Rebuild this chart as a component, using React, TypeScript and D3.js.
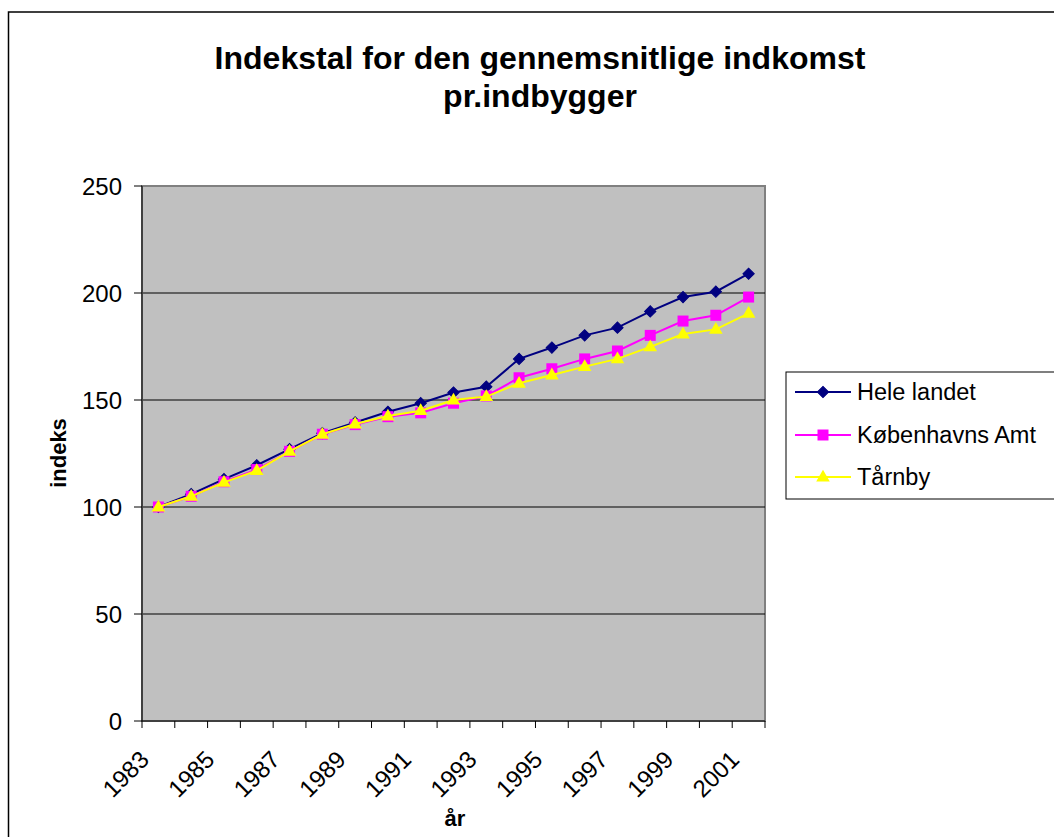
import React from "react";
import * as d3 from "d3";

const years = [1983,1984,1985,1986,1987,1988,1989,1990,1991,1992,1993,1994,1995,1996,1997,1998,1999,2000,2001];
const heleLandet = [100,106,113,119.5,127,134.5,139.5,144.5,148.5,153.5,156.2,169.2,174.5,180.2,183.8,191.4,198.1,200.6,209];
const kobenhavnsAmt = [100,105,111.8,117.5,126,134,138.5,142.2,144,148.5,151.9,160.4,164.6,169.2,172.9,180.2,186.9,189.6,198.1];
const taarnby = [100,105,111.5,117,126,134,138.8,142.5,145,150,151.6,157.8,161.7,165.6,169.2,174.8,180.8,183,190.5];
const yTicks = [0,50,100,150,200,250];
const xLabelYears = [1983,1985,1987,1989,1991,1993,1995,1997,1999,2001];

const seriesNames = ["Hele landet", "Københavns Amt", "Tårnby"];
const seriesColors = ["#000080", "#FF00FF", "#FFFF00"];
const seriesData = [heleLandet, kobenhavnsAmt, taarnby];

const W = 1054, H = 837;
const L = 142, R = 765, T = 186, B = 721;
const FONT = "'Liberation Sans', Arial, sans-serif";

function marker(i: number, x: number, y: number, color: string, key?: string) {
  if (i === 0) {
    const p = d3.symbol().type(d3.symbolSquare).size(64)();
    return <path key={key} d={p || ""} transform={`translate(${x},${y}) rotate(45)`} fill={color} stroke={color} strokeWidth={1} />;
  }
  if (i === 1) {
    const p = d3.symbol().type(d3.symbolSquare).size(121)();
    return <path key={key} d={p || ""} transform={`translate(${x},${y})`} fill={color} />;
  }
  const p = d3.symbol().type(d3.symbolTriangle).size(80)();
  return <path key={key} d={p || ""} transform={`translate(${x},${y + 0.5})`} fill={color} />;
}

export default function App() {
  const x = d3.scaleBand<number>().domain(years).range([L, R]).padding(0);
  const y = d3.scaleLinear().domain([0, 250]).range([B, T]);
  const cx = (yr: number) => (x(yr) as number) + x.bandwidth() / 2;
  const line = d3.line<number>().x((_, i) => cx(years[i])).y((d) => y(d));

  const boundaries = years.map((yr) => x(yr) as number).concat([R]);

  const legendX = 786, legendY = 372;
  const rowY = [392, 435, 477];

  return (
    <svg width={W} height={H} style={{ position: "absolute", left: 0, top: 0, background: "#fff" }} fontFamily={FONT}>
      <rect x={8.5} y={12} width={W + 20} height={H + 20} fill="#fff" stroke="#000" strokeWidth={1.5} />
      <text x={540} y={69} textAnchor="middle" fontSize={32} fontWeight="bold">Indekstal for den gennemsnitlige indkomst</text>
      <text x={540} y={107} textAnchor="middle" fontSize={32} fontWeight="bold">pr.indbygger</text>

      <rect x={L} y={T} width={R - L} height={B - T} fill="#C0C0C0" stroke="#808080" strokeWidth={2} />
      {yTicks.filter((t) => t > 0 && t < 250).map((t) => (
        <line key={"g" + t} x1={L} x2={R} y1={y(t)} y2={y(t)} stroke="#000" strokeWidth={1} />
      ))}
      <line x1={L} x2={L} y1={T} y2={B} stroke="#404040" strokeWidth={2} />
      <line x1={L} x2={R} y1={B} y2={B} stroke="#000" strokeWidth={1} />
      {yTicks.map((t) => (
        <g key={"yt" + t}>
          <line x1={L - 8} x2={L} y1={y(t)} y2={y(t)} stroke="#000" />
          <text x={122} y={y(t) + 8.5} textAnchor="end" fontSize={24}>{t}</text>
        </g>
      ))}
      {boundaries.map((bx, i) => (
        <line key={"xt" + i} x1={bx} x2={bx} y1={B} y2={B + 7} stroke="#000" />
      ))}
      {xLabelYears.map((yr) => (
        <text key={"xl" + yr} x={cx(yr) - 8} y={761} textAnchor="end" fontSize={24}
          transform={`rotate(-45, ${cx(yr) - 8}, 761)`}>{yr}</text>
      ))}
      <text x={455} y={826} textAnchor="middle" fontSize={22} fontWeight="bold">år</text>
      <text x={0} y={0} textAnchor="middle" fontSize={22} fontWeight="bold"
        transform={`translate(66, 453) rotate(-90)`}>indeks</text>

      {seriesData.map((data, i) => (
        <g key={"s" + i}>
          <path d={line(data) || ""} fill="none" stroke={seriesColors[i]} strokeWidth={2} />
          {data.map((v, j) => marker(i, cx(years[j]), y(v), seriesColors[i], `m${i}-${j}`))}
        </g>
      ))}

      <rect x={legendX} y={legendY} width={300} height={127} fill="#fff" stroke="#000" strokeWidth={1} />
      {seriesNames.map((n, i) => (
        <g key={"lg" + i}>
          <line x1={795} x2={851} y1={rowY[i]} y2={rowY[i]} stroke={seriesColors[i]} strokeWidth={2} />
          {marker(i, 823, rowY[i], seriesColors[i])}
          <text x={857} y={rowY[i] + 8} fontSize={23.5}>{n}</text>
        </g>
      ))}
    </svg>
  );
}
